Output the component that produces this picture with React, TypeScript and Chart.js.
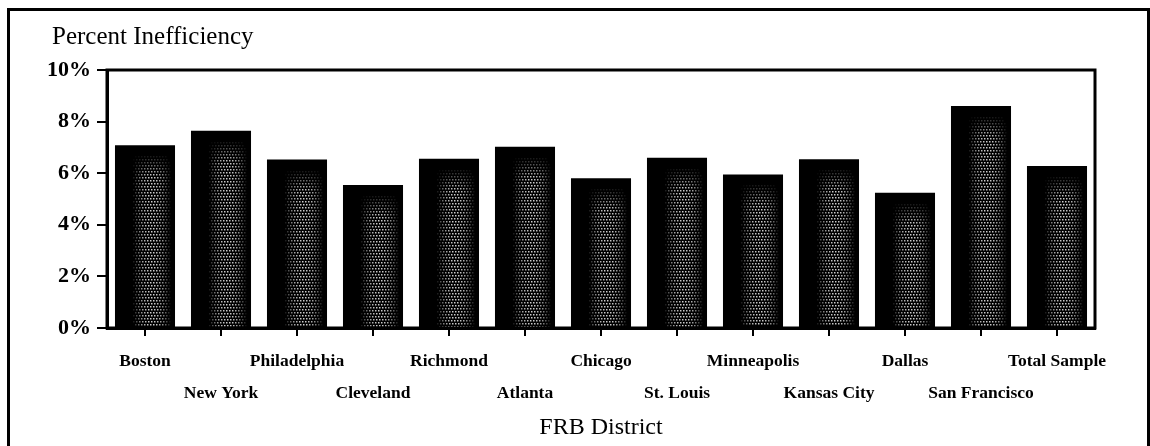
import React, { useEffect, useRef } from "react";
import { Chart, registerables } from "chart.js";

Chart.register(...registerables);

const categories = [
  "Boston", "New York", "Philadelphia", "Cleveland", "Richmond", "Atlanta",
  "Chicago", "St. Louis", "Minneapolis", "Kansas City", "Dallas", "San Francisco", "Total Sample",
];
const inefficiency = [7.08, 7.65, 6.53, 5.54, 6.56, 7.03, 5.8, 6.6, 5.95, 6.54, 5.24, 8.6, 6.28];
const yMin = 0;
const yMax = 10;
const yStep = 1;
const titleText = "Percent Inefficiency";
const xTitleText = "FRB District";

const FONT = "'Liberation Serif', 'Times New Roman', serif";

const framePlugin = {
  id: "frame",
  afterLayout(chart: any) {
    const t = chart.titleBlock;
    if (t) {
      t.left += 12;
      t.right += 12;
    }
  },
  afterDatasetsDraw(chart: any) {
    const ctx = chart.ctx;
    const meta = chart.getDatasetMeta(0);
    ctx.save();
    meta.data.forEach((bar: any) => {
      const props = bar.getProps(["x", "y", "base", "width"], true);
      const left = props.x - props.width / 2;
      const w = props.width;
      const top = props.y;
      const bottom = props.base;
      const cx = left + w * 0.6;
      const hw = w * 0.32;
      const step = 3;
      for (let yy = top + 8; yy < bottom - 1; yy += step) {
        const row = Math.round((yy - top) / step);
        const vfade = Math.min(1, (yy - top - 8) / 22);
        for (let xx = cx - hw + ((row % 2) * step) / 2; xx <= cx + hw; xx += step) {
          const d = Math.abs(xx - cx) / hw;
          const a = Math.max(0, 1 - d * d) * vfade * 0.9;
          if (a <= 0.03) continue;
          ctx.fillStyle = `rgba(225,225,225,${a})`;
          ctx.fillRect(Math.round(xx), Math.round(yy), 1.5, 1.5);
        }
      }
    });
    ctx.restore();
  },
  afterDraw(chart: any) {
    const { left, top, right, bottom } = chart.chartArea;
    const ctx = chart.ctx;
    ctx.save();
    ctx.strokeStyle = "#000";
    ctx.lineWidth = 3;
    ctx.strokeRect(left, top, right - left, bottom - top);
    ctx.restore();
  },
};

export default function App() {
  const ref = useRef<HTMLCanvasElement | null>(null);
  useEffect(() => {
    if (!ref.current) return;
    Chart.defaults.color = "#000";
    const chart = new Chart(ref.current, {
      type: "bar",
      data: {
        labels: categories,
        datasets: [
          {
            data: inefficiency,
            backgroundColor: "#000",
            borderWidth: 0,
            barPercentage: 0.79,
            categoryPercentage: 1,
          },
        ],
      },
      options: {
        responsive: false,
        animation: false,
        layout: { padding: { left: 40, right: 55, top: 22, bottom: 4 } },
        plugins: {
          legend: { display: false },
          tooltip: { enabled: false },
          title: {
            display: true,
            text: titleText,
            align: "start",
            color: "#000",
            font: { family: FONT, size: 25, weight: "normal" },
            padding: { top: 0, bottom: 18 },
          },
        },
        scales: {
          x: {
            afterFit: (scale: any) => {
              scale.height = 114;
            },
            grid: {
              offset: false,
              drawOnChartArea: false,
              drawTicks: true,
              tickLength: 8,
              color: "#000",
              lineWidth: 2,
            },
            border: { display: true, color: "#000", width: 3 },
            ticks: {
              autoSkip: false,
              maxRotation: 0,
              minRotation: 0,
              padding: 9,
              color: "#000",
              font: { family: FONT, size: 17.5, weight: "bold", lineHeight: 32 / 17.5 },
              callback: (_v: any, i: number) => (i % 2 === 1 ? ["", categories[i]] : categories[i]),
            },
            title: {
              display: true,
              text: xTitleText,
              color: "#000",
              font: { family: FONT, size: 24, weight: "normal" },
              padding: { top: 6, bottom: 0 },
            },
          },
          y: {
            min: yMin,
            max: yMax,
            afterFit: (scale: any) => {
              scale.width = 67;
            },
            grid: {
              drawOnChartArea: false,
              drawTicks: true,
              tickLength: 10,
              color: "#000",
              lineWidth: 2,
              tickBorderDash: (c: any) => (c.tick && Number(c.tick.value) % 2 !== 0 ? [0, 5, 20] : []),
            },
            border: { display: true, color: "#000", width: 3 },
            ticks: {
              stepSize: yStep,
              padding: 6,
              color: "#000",
              font: { family: FONT, size: 22, weight: "bold" },
              callback: (v: any) => (Number(v) % 2 === 0 ? `${v}%` : ""),
            },
          },
        },
      },
      plugins: [framePlugin],
    });
    return () => chart.destroy();
  }, []);

  return (
    <div style={{ position: "fixed", left: 0, top: 0, width: 1150, height: 446, overflow: "hidden", background: "#fff" }}>
      <div
        style={{
          position: "absolute",
          left: 7,
          top: 8,
          width: 1137,
          height: 470,
          border: "3px solid #000",
          boxSizing: "content-box",
        }}
      />
      <canvas ref={ref} width={1150} height={446} style={{ position: "absolute", left: 0, top: 0, width: 1150, height: 446 }} />
    </div>
  );
}
